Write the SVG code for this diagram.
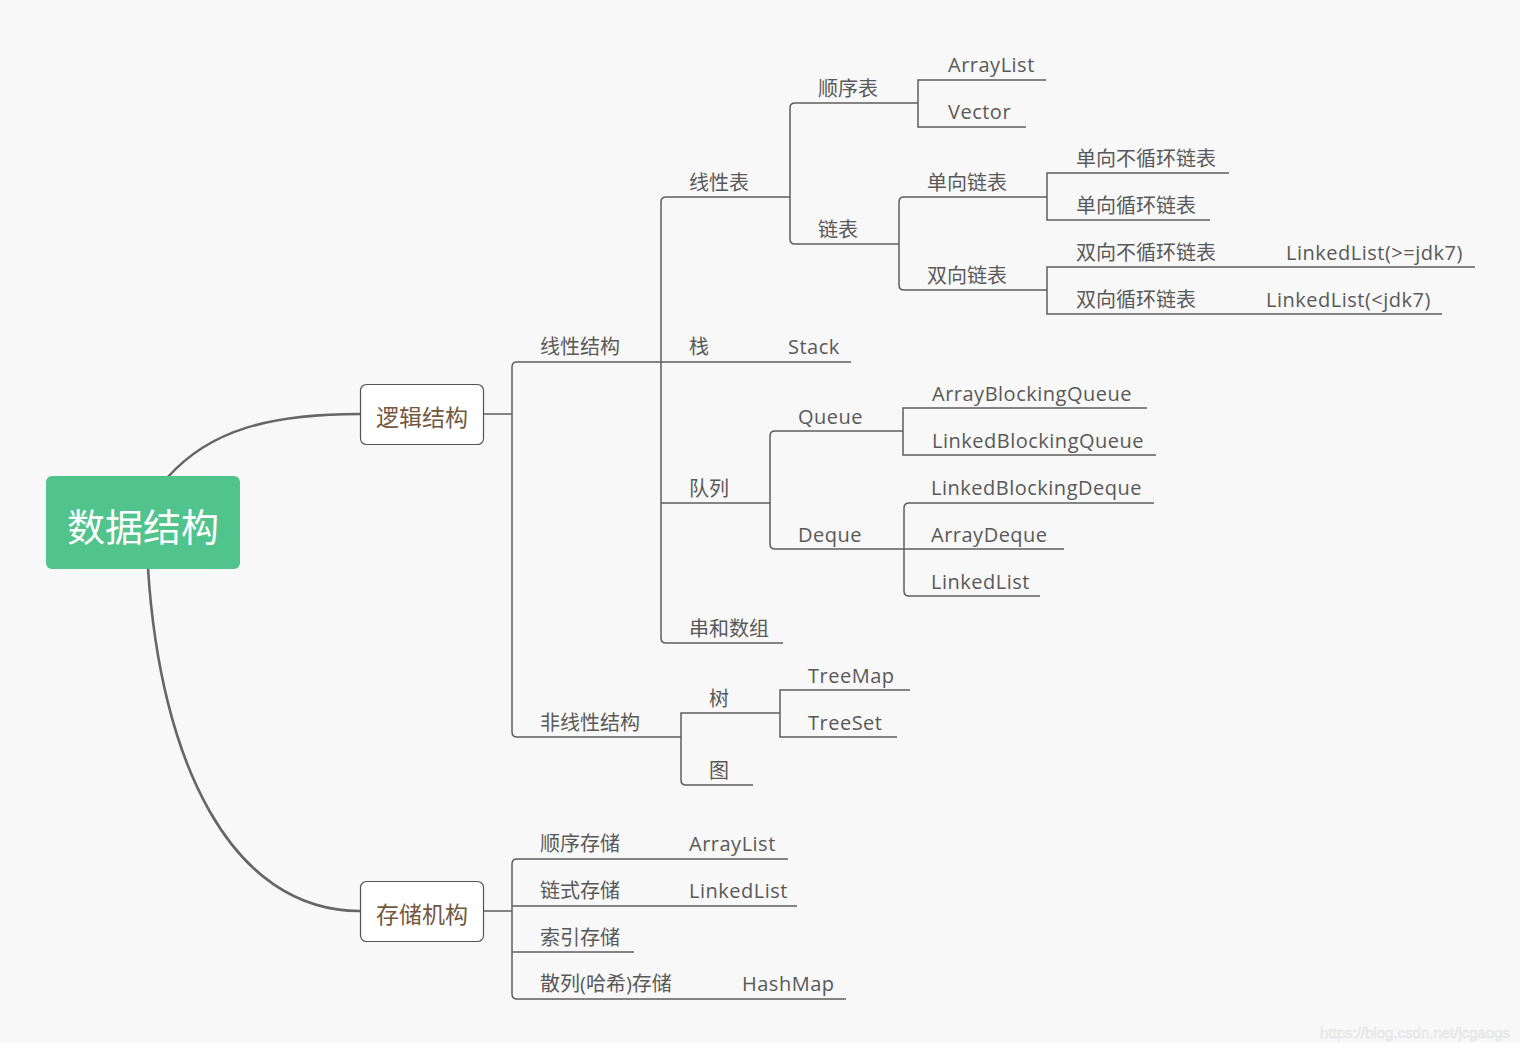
<svg xmlns="http://www.w3.org/2000/svg" width="1529" height="1050" viewBox="0 0 1529 1050">
<style>
.t{font-family:"Open Sans","Noto Sans CJK SC",sans-serif;font-size:20px;fill:#595959}
.l{letter-spacing:0.5px}
.c{fill:none;stroke:#5e5e5e;stroke-width:1.5}
.curve{fill:none;stroke:#666;stroke-width:2.6}
.mid{fill:#fff;stroke:#555;stroke-width:1.2}
.mt{font-family:"Noto Sans CJK SC",sans-serif;font-size:23px;fill:#73583f}
</style>
<rect x="0" y="0" width="1529" height="1050" fill="#ffffff"/>
<rect x="0" y="0" width="1520" height="1043" fill="#f8f8f8"/>

<g id="connectors">
<path class="curve" d="M168,477 C210,430 270,414 360,414"/>
<path class="curve" d="M148,568 C160,760 230,911 360,911"/>
<path class="c" d="M483,414 H512"/>
<path class="c" d="M661,362 H517 Q512,362 512,367 V732 Q512,737 517,737 H681"/>
<path class="c" d="M790,197 H666 Q661,197 661,202 V638 Q661,643 666,643 H783"/>
<path class="c" d="M661,362 H851"/>
<path class="c" d="M661,503 H770"/>
<path class="c" d="M918,103 H795 Q790,103 790,108 V239 Q790,244 795,244 H899"/>
<path class="c" d="M1046,80 H918 V127 H1026"/>
<path class="c" d="M1047,197 H904 Q899,197 899,202 V285 Q899,290 904,290 H1047"/>
<path class="c" d="M1229,173 H1047 V220 H1210"/>
<path class="c" d="M1475,267 H1047 V314 H1442"/>
<path class="c" d="M903,431 H775 Q770,431 770,436 V544 Q770,549 775,549 H904"/>
<path class="c" d="M1147,408 H903 V455 H1156"/>
<path class="c" d="M1154,503 H909 Q904,503 904,508 V591 Q904,596 909,596 H1040"/>
<path class="c" d="M904,549 H1064"/>
<path class="c" d="M780,713 H681 V780 Q681,785 686,785 H753"/>
<path class="c" d="M910,690 H780 V737 H897"/>
<path class="c" d="M483,911 H512"/>
<path class="c" d="M788,859 H517 Q512,859 512,864 V994 Q512,999 517,999 H846"/>
<path class="c" d="M512,906 H797"/>
<path class="c" d="M512,952 H634"/>
</g>

<g id="root">
<rect x="46" y="476" width="194" height="93" rx="6" fill="#51c38c"/>
<text x="143" y="541" text-anchor="middle" font-family="Noto Sans CJK SC,sans-serif" font-size="38" fill="#ffffff">数据结构</text>
</g>
<g id="n-logic">
<rect class="mid" x="360.5" y="384.5" width="123" height="60" rx="6"/>
<text class="mt" x="422" y="426" text-anchor="middle">逻辑结构</text>
</g>
<g id="n-storage">
<rect class="mid" x="360.5" y="881.5" width="123" height="60" rx="6"/>
<text class="mt" x="422" y="923" text-anchor="middle">存储机构</text>
</g>

<g id="n-linear"><text class="t" x="540" y="354">线性结构</text></g>
<g id="n-nonlinear"><text class="t" x="540" y="730">非线性结构</text></g>
<g id="n-linlist"><text class="t" x="689" y="190">线性表</text></g>
<g id="n-seq"><text class="t" x="818" y="96">顺序表</text></g>
<g id="n-arraylist1"><text class="t l" x="948" y="72">ArrayList</text></g>
<g id="n-vector"><text class="t l" x="948" y="119">Vector</text></g>
<g id="n-linked"><text class="t" x="818" y="237">链表</text></g>
<g id="n-single"><text class="t" x="927" y="190">单向链表</text></g>
<g id="n-s1"><text class="t" x="1076" y="166">单向不循环链表</text></g>
<g id="n-s2"><text class="t" x="1076" y="213">单向循环链表</text></g>
<g id="n-double"><text class="t" x="927" y="283">双向链表</text></g>
<g id="n-d1"><text class="t" x="1076" y="260">双向不循环链表</text></g>
<g id="n-d1l"><text class="t l" x="1286" y="260">LinkedList(&gt;=jdk7)</text></g>
<g id="n-d2"><text class="t" x="1076" y="307">双向循环链表</text></g>
<g id="n-d2l"><text class="t l" x="1266" y="307">LinkedList(&lt;jdk7)</text></g>
<g id="n-stack"><text class="t" x="689" y="354">栈</text></g>
<g id="n-stackcls"><text class="t l" x="788" y="354">Stack</text></g>
<g id="n-queue"><text class="t" x="689" y="496">队列</text></g>
<g id="n-q"><text class="t l" x="798" y="424">Queue</text></g>
<g id="n-abq"><text class="t l" x="932" y="401">ArrayBlockingQueue</text></g>
<g id="n-lbq"><text class="t l" x="932" y="448">LinkedBlockingQueue</text></g>
<g id="n-dq"><text class="t l" x="798" y="542">Deque</text></g>
<g id="n-lbd"><text class="t l" x="931" y="495">LinkedBlockingDeque</text></g>
<g id="n-ad"><text class="t l" x="931" y="542">ArrayDeque</text></g>
<g id="n-ll"><text class="t l" x="931" y="589">LinkedList</text></g>
<g id="n-str"><text class="t" x="689" y="636">串和数组</text></g>
<g id="n-tree"><text class="t" x="709" y="706">树</text></g>
<g id="n-treemap"><text class="t l" x="808" y="683">TreeMap</text></g>
<g id="n-treeset"><text class="t l" x="808" y="730">TreeSet</text></g>
<g id="n-graph"><text class="t" x="709" y="778">图</text></g>
<g id="n-seqst"><text class="t" x="540" y="851">顺序存储</text></g>
<g id="n-seqst-al"><text class="t l" x="689" y="851">ArrayList</text></g>
<g id="n-linkst"><text class="t" x="540" y="898">链式存储</text></g>
<g id="n-linkst-ll"><text class="t l" x="689" y="898">LinkedList</text></g>
<g id="n-idxst"><text class="t" x="540" y="945">索引存储</text></g>
<g id="n-hashst"><text class="t" x="540" y="991">散列(哈希)存储</text></g>
<g id="n-hashmap"><text class="t l" x="742" y="991">HashMap</text></g>

<text x="1320" y="1038" font-family="Liberation Sans,sans-serif" font-size="15" fill="#f2f2f2" stroke="#e2e2e2" stroke-width="0.5">https://blog.csdn.net/jcgaogs</text>
</svg>
